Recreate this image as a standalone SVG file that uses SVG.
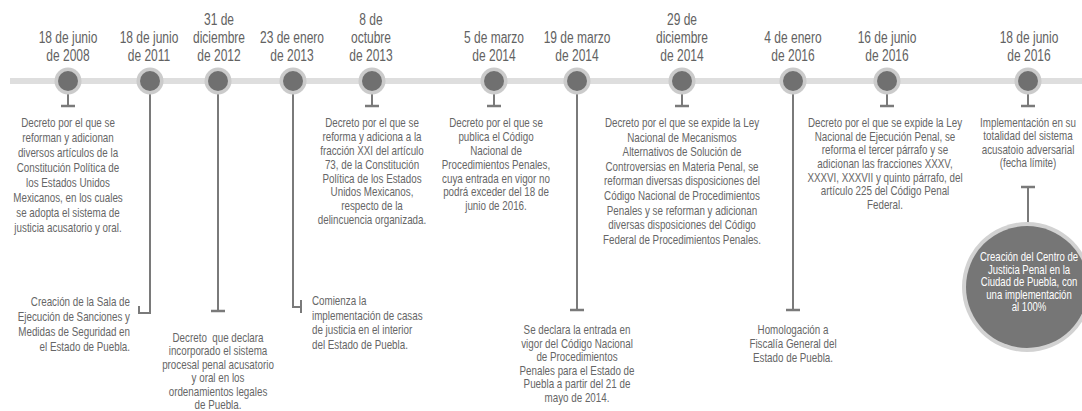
<svg xmlns="http://www.w3.org/2000/svg" width="1082" height="411" viewBox="0 0 1082 411">
<style>
text{font-family:"Liberation Sans",Arial,sans-serif;text-anchor:middle}
.dt{font-size:16px;fill:#626262}
.ds{font-size:13px;fill:#666666}
.cw{font-size:13px;fill:#ffffff}
.ring{fill:#cbcbcb}
.dot{fill:#707070}
.ln{stroke:#7a7a7a;stroke-width:2;fill:none}
.bar{stroke:#7a7a7a;stroke-width:2.5;fill:none}
</style>
<rect width="1082" height="411" fill="#ffffff"/>
<g id="timeline"><rect x="10" y="78" width="1072" height="6" fill="#dedede"/></g>
<g id="connectors">
<path class="ln" d="M68 81V106"/><path class="bar" d="M61 106H75"/>
<path class="ln" d="M150 81V313H139M139 306V314"/>
<path class="ln" d="M218 81V311"/><path class="bar" d="M211 311H225"/>
<path class="ln" d="M293 81V307H301M301 300V313"/>
<path class="ln" d="M372 81V106"/><path class="bar" d="M365 106H379"/>
<path class="ln" d="M494 81V106"/><path class="bar" d="M487 106H501"/>
<path class="ln" d="M577 81V310"/><path class="bar" d="M570 310H584"/>
<path class="ln" d="M682 81V106"/><path class="bar" d="M675 106H689"/>
<path class="ln" d="M793 81V310"/><path class="bar" d="M786 310H800"/>
<path class="ln" d="M887 81V106"/><path class="bar" d="M880 106H894"/>
<path class="ln" d="M1028 81V106"/><path class="bar" d="M1021 106H1035"/>
<path class="ln" d="M1028 187V223"/><path class="bar" d="M1021 187H1035"/>
</g>
<g id="ev1">
<circle class="ring" cx="68" cy="81" r="13.5"/><circle class="dot" cx="68" cy="81" r="10"/>
<text class="dt" transform="matrix(.75 0 0 1 68 0)"><tspan x="0" y="43">18 de junio</tspan><tspan x="0" y="61.5">de 2008</tspan></text>
<text class="ds" transform="matrix(.755 0 0 1 68 0)"><tspan x="0" y="127">Decreto por el que se</tspan><tspan x="0" y="142">reforman y adicionan</tspan><tspan x="0" y="157">diversos artículos de la</tspan><tspan x="0" y="172">Constitución Política de</tspan><tspan x="0" y="187">los Estados Unidos</tspan><tspan x="0" y="202">Mexicanos, en los cuales</tspan><tspan x="0" y="217">se adopta el sistema de</tspan><tspan x="0" y="232">justicia acusatorio y oral.</tspan></text>
</g>
<g id="ev2">
<circle class="ring" cx="150" cy="81" r="13.5"/><circle class="dot" cx="150" cy="81" r="10"/>
<text class="dt" transform="matrix(.75 0 0 1 149 0)"><tspan x="0" y="43">18 de junio</tspan><tspan x="0" y="61.5">de 2011</tspan></text>
<text class="ds" style="text-anchor:end" transform="matrix(.755 0 0 1 130 0)"><tspan x="0" y="306">Creación de la Sala de</tspan><tspan x="0" y="321">Ejecución de Sanciones y</tspan><tspan x="0" y="336">Medidas de Seguridad en</tspan><tspan x="0" y="351">el Estado de Puebla.</tspan></text>
</g>
<g id="ev3">
<circle class="ring" cx="218" cy="81" r="13.5"/><circle class="dot" cx="218" cy="81" r="10"/>
<text class="dt" transform="matrix(.75 0 0 1 219 0)"><tspan x="0" y="25">31 de</tspan><tspan x="0" y="43">diciembre</tspan><tspan x="0" y="61.5">de 2012</tspan></text>
<text class="ds" transform="matrix(.755 0 0 1 218 0)"><tspan x="0" y="342" xml:space="preserve">Decreto  que declara</tspan><tspan x="0" y="355.4">incorporado el sistema</tspan><tspan x="0" y="368.8">procesal penal acusatorio</tspan><tspan x="0" y="382.2">y oral en los</tspan><tspan x="0" y="395.6">ordenamientos legales</tspan><tspan x="0" y="409">de Puebla.</tspan></text>
</g>
<g id="ev4">
<circle class="ring" cx="293" cy="81" r="13.5"/><circle class="dot" cx="293" cy="81" r="10"/>
<text class="dt" transform="matrix(.75 0 0 1 292 0)"><tspan x="0" y="43">23 de enero</tspan><tspan x="0" y="61.5">de 2013</tspan></text>
<text class="ds" style="text-anchor:start" transform="matrix(.755 0 0 1 312 0)"><tspan x="0" y="305">Comienza la</tspan><tspan x="0" y="320">implementación de casas</tspan><tspan x="0" y="334.5">de justicia en el interior</tspan><tspan x="0" y="349">del Estado de Puebla.</tspan></text>
</g>
<g id="ev5">
<circle class="ring" cx="372" cy="81" r="13.5"/><circle class="dot" cx="372" cy="81" r="10"/>
<text class="dt" transform="matrix(.75 0 0 1 371 0)"><tspan x="0" y="25">8 de</tspan><tspan x="0" y="43">octubre</tspan><tspan x="0" y="61.5">de 2013</tspan></text>
<text class="ds" transform="matrix(.755 0 0 1 372 0)"><tspan x="0" y="127">Decreto por el que se</tspan><tspan x="0" y="140.9">reforma y adiciona a la</tspan><tspan x="0" y="154.8">fracción XXI del artículo</tspan><tspan x="0" y="168.7">73, de la Constitución</tspan><tspan x="0" y="182.6">Política de los Estados</tspan><tspan x="0" y="196.5">Unidos Mexicanos,</tspan><tspan x="0" y="210.4">respecto de la</tspan><tspan x="0" y="224.3">delincuencia organizada.</tspan></text>
</g>
<g id="ev6">
<circle class="ring" cx="494" cy="81" r="13.5"/><circle class="dot" cx="494" cy="81" r="10"/>
<text class="dt" transform="matrix(.75 0 0 1 494 0)"><tspan x="0" y="43">5 de marzo</tspan><tspan x="0" y="61.5">de 2014</tspan></text>
<text class="ds" transform="matrix(.755 0 0 1 496 0)"><tspan x="0" y="127">Decreto por el que se</tspan><tspan x="0" y="140.9">publica el Código</tspan><tspan x="0" y="154.8">Nacional de</tspan><tspan x="0" y="168.7">Procedimientos Penales,</tspan><tspan x="0" y="182.6">cuya entrada en vigor no</tspan><tspan x="0" y="196.5">podrá exceder del 18 de</tspan><tspan x="0" y="210.4">junio de 2016.</tspan></text>
</g>
<g id="ev7">
<circle class="ring" cx="577" cy="81" r="13.5"/><circle class="dot" cx="577" cy="81" r="10"/>
<text class="dt" transform="matrix(.75 0 0 1 577 0)"><tspan x="0" y="43">19 de marzo</tspan><tspan x="0" y="61.5">de 2014</tspan></text>
<text class="ds" transform="matrix(.755 0 0 1 577 0)"><tspan x="0" y="334.5">Se declara la entrada en</tspan><tspan x="0" y="348">vigor del Código Nacional</tspan><tspan x="0" y="361.4">de Procedimientos</tspan><tspan x="0" y="374.8">Penales para el Estado de</tspan><tspan x="0" y="388.2">Puebla a partir del 21 de</tspan><tspan x="0" y="401.6">mayo de 2014.</tspan></text>
</g>
<g id="ev8">
<circle class="ring" cx="682" cy="81" r="13.5"/><circle class="dot" cx="682" cy="81" r="10"/>
<text class="dt" transform="matrix(.75 0 0 1 682 0)"><tspan x="0" y="25">29 de</tspan><tspan x="0" y="43">diciembre</tspan><tspan x="0" y="61.5">de 2014</tspan></text>
<text class="ds" transform="matrix(.755 0 0 1 682 0)"><tspan x="0" y="127">Decreto por el que se expide la Ley</tspan><tspan x="0" y="141.6">Nacional de Mecanismos</tspan><tspan x="0" y="156.2">Alternativos de Solución de</tspan><tspan x="0" y="170.8">Controversias en Materia Penal, se</tspan><tspan x="0" y="185.4">reforman diversas disposiciones del</tspan><tspan x="0" y="200">Código Nacional de Procedimientos</tspan><tspan x="0" y="214.6">Penales y se reforman y adicionan</tspan><tspan x="0" y="229.2">diversas disposiciones del Código</tspan><tspan x="0" y="243.8">Federal de Procedimientos Penales.</tspan></text>
</g>
<g id="ev9">
<circle class="ring" cx="793" cy="81" r="13.5"/><circle class="dot" cx="793" cy="81" r="10"/>
<text class="dt" transform="matrix(.75 0 0 1 793 0)"><tspan x="0" y="43">4 de enero</tspan><tspan x="0" y="61.5">de 2016</tspan></text>
<text class="ds" transform="matrix(.755 0 0 1 793 0)"><tspan x="0" y="334.5">Homologación a</tspan><tspan x="0" y="348.5">Fiscalía General del</tspan><tspan x="0" y="362.5">Estado de Puebla.</tspan></text>
</g>
<g id="ev10">
<circle class="ring" cx="887" cy="81" r="13.5"/><circle class="dot" cx="887" cy="81" r="10"/>
<text class="dt" transform="matrix(.75 0 0 1 887 0)"><tspan x="0" y="43">16 de junio</tspan><tspan x="0" y="61.5">de 2016</tspan></text>
<text class="ds" transform="matrix(.755 0 0 1 885 0)"><tspan x="0" y="127">Decreto por el que se expide la Ley</tspan><tspan x="0" y="140.7">Nacional de Ejecución Penal, se</tspan><tspan x="0" y="154.4">reforma el tercer párrafo y se</tspan><tspan x="0" y="168.1">adicionan las fracciones XXXV,</tspan><tspan x="0" y="181.8">XXXVI, XXXVII y quinto párrafo, del</tspan><tspan x="0" y="195.5">artículo 225 del Código Penal</tspan><tspan x="0" y="209.2">Federal.</tspan></text>
</g>
<g id="ev11">
<circle class="ring" cx="1028" cy="81" r="13.5"/><circle class="dot" cx="1028" cy="81" r="10"/>
<text class="dt" transform="matrix(.75 0 0 1 1029 0)"><tspan x="0" y="43">18 de junio</tspan><tspan x="0" y="61.5">de 2016</tspan></text>
<text class="ds" transform="matrix(.755 0 0 1 1028 0)"><tspan x="0" y="127">Implementación en su</tspan><tspan x="0" y="140.5">totalidad del sistema</tspan><tspan x="0" y="154">acusatoio adversarial</tspan><tspan x="0" y="167.5">(fecha límite)</tspan></text>
</g>
<g id="centro">
<circle cx="1027" cy="287" r="65" fill="#d2d2d2"/><circle cx="1027" cy="287" r="61" fill="#767676"/>
<text class="cw" transform="matrix(.735 0 0 1 1029 0)"><tspan x="0" y="261.5">Creación del Centro de</tspan><tspan x="0" y="274">Justicia Penal en la</tspan><tspan x="0" y="286.5">Ciudad de Puebla, con</tspan><tspan x="0" y="299">una implementación</tspan><tspan x="0" y="311.5">al 100%</tspan></text>
</g>
</svg>
